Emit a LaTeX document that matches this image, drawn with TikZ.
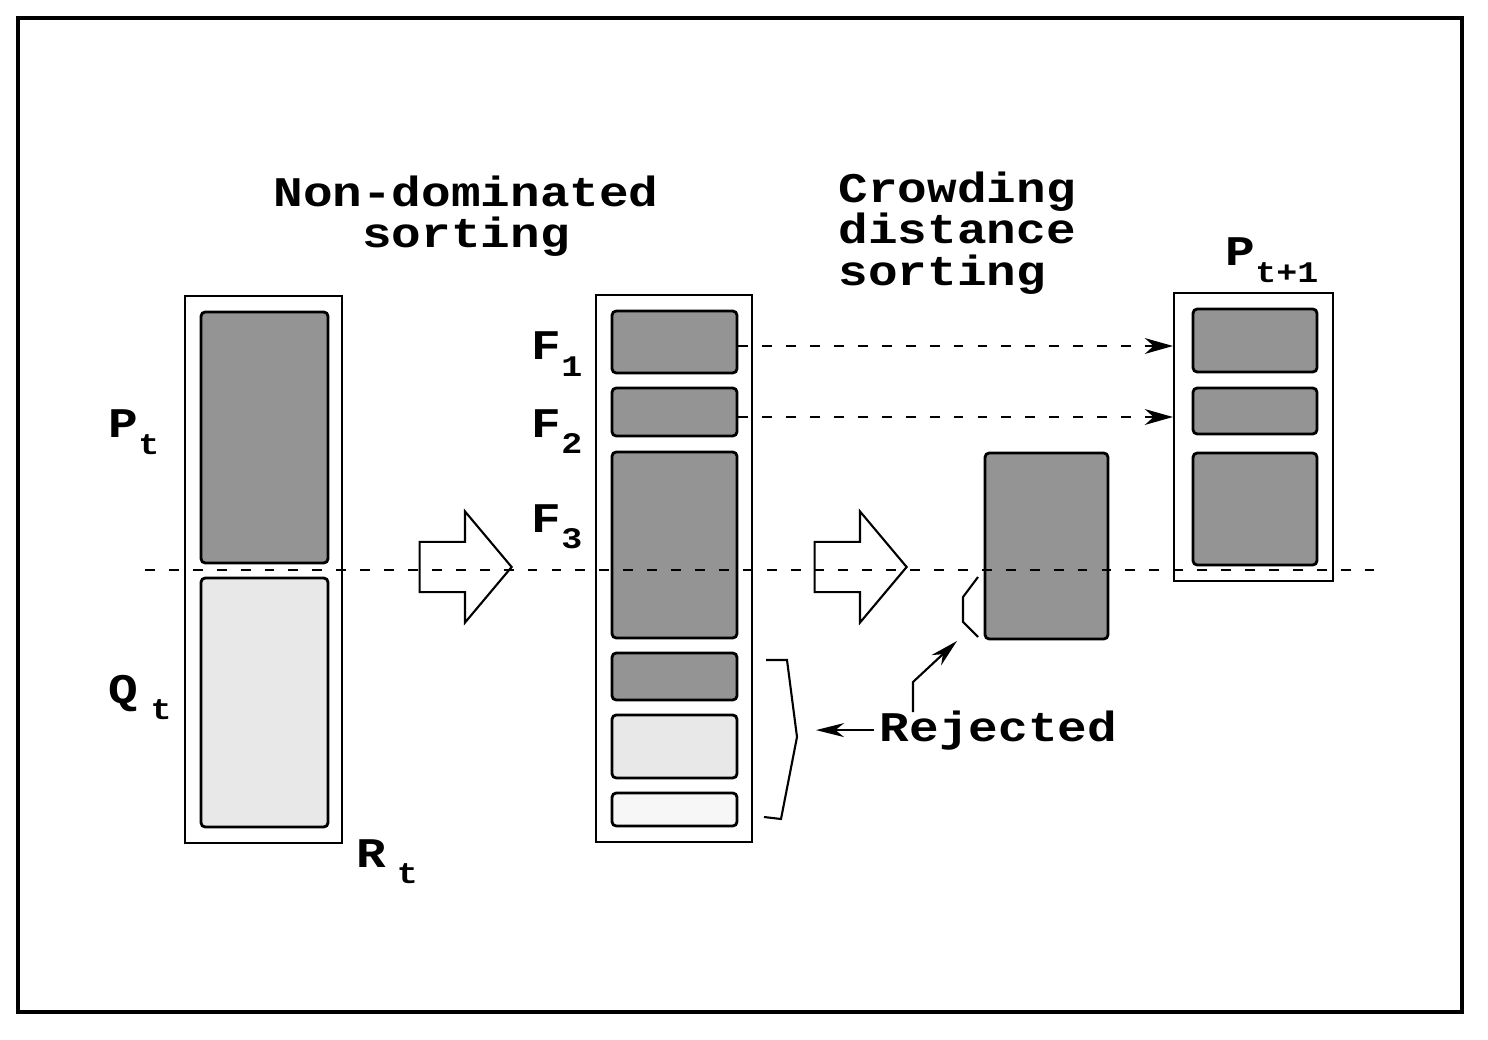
\documentclass[tikz,border=0pt]{standalone}
\usepackage{fontspec}
\setmonofont{Liberation Mono}[FakeStretch=1.17]
\usepackage{tikz}
\usetikzlibrary{arrows.meta, positioning, fit, shapes.arrows}
\newcommand\subfont{\fontsize{8.5}{8.5}\selectfont}
\newcommand\lsub[3][0pt]{#2\kern#1\raisebox{-4.8pt}{\subfont #3}}

\begin{document}
\begin{tikzpicture}[
  x=0.01cm, y=-0.01cm,
  font=\ttfamily\bfseries\fontsize{12}{11.8}\selectfont,
  frame/.style={draw, line width=0.9pt},
  pop/.style={draw, line width=0.6pt, inner sep=0pt},
  front/.style={draw, line width=0.8pt, rounded corners=1.2pt, inner sep=0pt, fill=black!42},
  pale/.style={front, fill=black!9},
  blank/.style={front, fill=black!3},
  title/.style={inner sep=0pt},
  lbl/.style={inner sep=0pt, anchor=base west},
  bigarr/.style={draw, line width=0.6pt, fill=white, single arrow, inner xsep=0pt, inner ysep=0.24cm,
    minimum height=0.92cm, single arrow head extend=0.305cm, single arrow tip angle=100},
  arr/.style={-{Stealth[length=8pt, width=4pt, inset=2.5pt]}, line width=0.6pt},
  darr/.style={-{Stealth[length=8pt, width=4.5pt, inset=2.5pt]}, line width=0.5pt, dash pattern=on 2.8pt off 4pt},
  cut/.style={line width=0.6pt, dash pattern=on 2.8pt off 4pt},
  brk/.style={line width=0.6pt},
]
\useasboundingbox (0,0) rectangle (1488,1040);
\draw[frame] (18,18) rectangle (1462,1012);

% ---- titles
\node[title, align=center, anchor=north] (nds) at (466,175) {Non-dominated\\sorting};
\node[title, align=left, anchor=north west] (cds) at (838,171) {Crowding\\distance\\sorting};

% ---- R_t = P_t + Q_t
\node[pop, fit={(185,296)(342,843)}] (rt) {};
\node[front, fit={(201,312)(328,563)}] (pt) {};
\node[pale, fit={(201,578)(328,827)}] (qt) {};
\node[lbl] (ptl) at (108,438) {\lsub{P}{t}};
\node[lbl] (qtl) at (108,703) {\lsub[3.5pt]{Q}{t}};
\node[lbl] (rtl) at (356,867) {\lsub[3pt]{R}{t}};

% ---- sorted fronts
\node[pop, fit={(596,295)(752,842)}] (fr) {};
\foreach \n/\ya/\yb/\s in {f1/311/373/front, f2/388/436/front, f3/452/638/front,
    f4/653/700/front, f5/715/778/pale, f6/793/826/blank}
  \node[\s, fit={(612,\ya)(737,\yb)}] (\n) {};
\node[lbl] (f1l) at (531,360) {\lsub{F}{1}};
\node[lbl] (f2l) at (531,437) {\lsub{F}{2}};
\node[lbl] (f3l) at (531,532) {\lsub{F}{3}};

% ---- last front, split by crowding distance
\node[front, fit={(985,453)(1108,639)}] (f3s) {};

% ---- P_{t+1}
\node[pop, fit={(1174,293)(1333,581)}] (pnext) {};
\foreach \n/\ya/\yb in {n1/309/372, n2/388/434, n3/453/565}
  \node[front, fit={(1193,\ya)(1317,\yb)}] (\n) {};
\node[lbl] (pnl) at (1225,266) {\lsub{P}{t+1}};

% ---- block arrows
\node[bigarr, anchor=tip] (sort1) at (513,567) {};
\node[bigarr, anchor=tip] (sort2) at (908,567) {};

% ---- cut line
\coordinate (cutL) at (145,570);
\coordinate (cutR) at (1375,570);
\draw[cut] (cutL) -- (cutR);

% ---- copied fronts
\draw[darr] ([yshift=-0.04cm]f1.east) -- ([yshift=-0.04cm]f1.east -| pnext.west);
\draw[darr] ([yshift=-0.05cm]f2.east) -- ([yshift=-0.05cm]f2.east -| pnext.west);

% ---- rejected
\node[lbl, inner sep=1.5pt] (rej) at (874,741) {Rejected};
\draw[brk] (766,660) -- (787,660) -- (797,737) -- (781,819) -- (764,817);
\draw[brk] (978,577) -- (963,597) -- (963,622) -- (978,637);
\coordinate (brtip) at (816,729);
\coordinate (rjfoot) at (913,712);
\coordinate (rjtip) at (957,641);
\draw[arr] (rej.west) -- (rej.west -| brtip);
\draw[arr] (rjfoot) -- ++(0,-30) -- (rjtip);
\end{tikzpicture}
\end{document}
